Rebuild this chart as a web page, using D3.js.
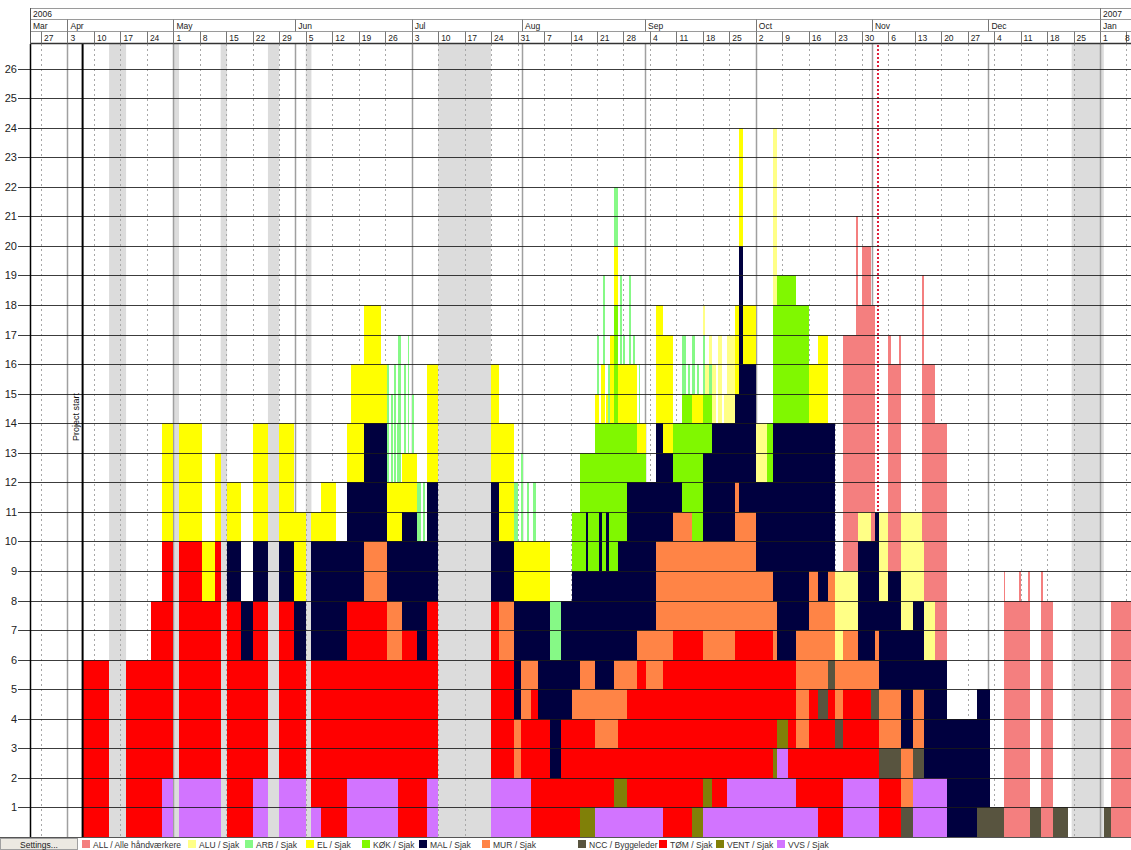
<!DOCTYPE html>
<html>
<head>
<meta charset="utf-8">
<script src="https://cdn.jsdelivr.net/npm/d3@7"></script>
<style>
  body { margin: 0; background: #fff; }
  svg { display: block; font-family: "Liberation Sans", Arial, sans-serif; }
</style>
</head>
<body>
<div id="container"></div>
<script>
// day numbers count from Monday 27 Mar 2006 (day 0)
const baseDate = new Date(2006, 2, 27);

// stacking order, bottom -> top
const trades = ["VVS", "VENT", "TOM", "NCC", "MUR", "MAL", "KOK", "EL", "ARB", "ALU", "ALL"];
const legendKeys = ["ALL", "ALU", "ARB", "EL", "KOK", "MAL", "MUR", "NCC", "TOM", "VENT", "VVS"];
const legendLabels = ["ALL / Alle håndværkere", "ALU / Sjak", "ARB / Sjak", "EL / Sjak", "KØK / Sjak",
  "MAL / Sjak", "MUR / Sjak", "NCC / Byggeleder", "TØM / Sjak", "VENT / Sjak", "VVS / Sjak"];
const colors = {
  ALL: "#f47f7f", ALU: "#ffff86", ARB: "#86f986", EL: "#ffff00", KOK: "#80f800",
  MAL: "#00003f", MUR: "#ff8446", NCC: "#58543f", TOM: "#ff0000", VENT: "#808008", VVS: "#d274ff"
};

// crew counts per trade: [fromDay, toDay, persons]
const VVS = [[32,35,2],[36.5,47.5,2],[56,60,2],[63,70,2],[71.5,74,1],[81,94.5,2],[102,105,2],[119,129.5,2],
  [146.5,164.5,1],[175,181.5,1],[181.5,194.5,2],[194.5,197.5,3],[197.5,199.5,2],[199.5,205.5,1],[212,221.5,2],[230.5,239.5,2]];
const VENT = [[142.5,146.5,1],[151.5,155,1],[172,177.5,1],[193.5,197.5,1]];
const TOM = [[11,18,6],[22.5,29,6],[29,35,8],[36.5,42.5,8],[42.5,46,6],[46,47.5,8],[49.2,53,8],[53,60,6],[63,67,6],
  [67,70,4],[71.5,74,5],[74,91.5,6],[91.5,94.5,4],[94.5,95.5,6],[95.5,99.5,7],[99.5,105,6],[119,121,6],[121,125,4],
  [127,129.5,2],[129.5,131.5,5],[131.5,134.5,4],[134.5,137.5,2],[137.5,142.5,4],[142.5,146.5,3],[146.5,151.5,2],
  [151.5,152.5,1],[152.5,155,2],[155,157.5,4],[157.5,160,5],[160,164.5,4],[164.5,167,6],[167,172,7],[172,175,6],
  [175,177.5,4],[177.5,181.5,5],[181.5,183.5,4],[183.5,193.5,5],[193.5,194.5,3],[194.5,197.5,2],[197.5,199.5,4],
  [199.5,203,2],[203,208,4],[208,210,5],[210,219.5,3],[219.5,227.5,2]];
const NCC = [[205.5,212,1],[219.5,233.5,1],[247.5,254.5,1],[261.5,264.5,1],[267.5,271.5,1],[281,283,1]];
const MUR = [[85.5,95.5,2],[121,129.5,2],[129.5,131.5,1],[140.5,142.5,1],[142.5,151.5,2],[151.5,152.5,3],[152.5,155,2],
  [155,160,1],[160,162.5,2],[162.5,164.5,5],[164.5,172,4],[172,175,3],[175,183.5,4],[183.5,184.5,5],[184.5,189,4],
  [189,194.5,2],[199.5,205.5,4],[205.5,210,3],[210,216,2],[216,220.5,1],[220.5,233.5,2]];
const MAL = [[49.2,60,2],[63,70,2],[71.5,91.5,4],[91.5,95.5,2],[95.5,105,4],[119,121,4],[121,125,2],[125,127,4],
  [127,131.5,2],[131.5,142.5,4],[142.5,144,3],[144,144.7,5],[144.7,146.5,3],[146.5,147.5,4],[147.5,148.2,6],
  [148.2,149.5,4],[149.5,150.2,6],[150.2,151.5,4],[151.5,152.5,3],[152.5,155,4],[155,157.5,6],
  [157.5,162.5,5],[162.5,164.5,4],[164.5,167,3],[167,169.5,1],[175,177.5,3],[177.5,183.5,4],[183.5,184.5,3],
  [184.5,185.5,9],[185.5,189,5],[189,193.5,3],[193.5,194.5,6],[194.5,199.5,8],[199.5,203,7],[203,205.5,5],
  [205.5,208,6],[208,210,5],[216,221.5,4],[221.5,224,3],[224,230.5,4],[230.5,233.5,3],[233.5,251,4]];
const KOK = [[140.5,142.5,2],[142.5,144,4],[144,144.7,2],[144.7,146.5,4],[146.5,147.5,5],[147.5,148.2,3],
  [148.2,149.5,5],[149.5,150.2,3],[150.2,151.5,5],[151.5,152.5,9],[152.5,155,4],[155,157.5,2],[157.5,160,1],
  [167,169.5,2],[169.5,175,4],[175,177.5,2],[192,193.5,2],[193.5,194.5,4],[194.5,199.5,5],[199.5,203,4]];
const EL = [[32,35,4],[36.5,42.5,4],[42.5,46,2],[46,47.5,3],[49.2,53,2],[56,60,4],[63,67,4],[67,70,3],[71.5,74,1],
  [74,78,2],[81,82,2],[82,90,4],[90,99.5,2],[102,105,4],[119,125,4],[125,134.5,2],[146.5,147.5,1],[148,149,2],
  [149.5,150,1],[150.5,151.5,3],[151.5,157.5,2],[157.5,160,1],[162.5,167,4],[172,175,1],[183.5,184.5,3],
  [184.5,185.5,4],[185.5,189,2],[203,205.5,2],[205.5,208,3]];
const ARB = [[91.5,92,4],[92.5,93,3],[93.3,93.8,4],[94.2,94.5,2],[94.5,95.2,5],[96,96.5,3],[97,97.4,4],[98,98.5,2],
  [99.5,100.5,2],[101,101.5,2],[125,126,2],[127,127.5,3],[128.5,129,2],[130,131,2],[134.5,137.5,2],
  [147,147.5,2],[148.5,149,3],[150,150.5,2],[151.5,152.5,2],[153,153.5,3],[154,154.5,1],[155.5,156,3],
  [156.5,157,1],[158,158.5,2],[169.5,170.5,2],[171,171.5,1],[172,173,2],[173.5,174,1],[175,175.5,2],[176.5,177.5,1]];
const ALU = [[175,177.5,1],[177.5,178.5,2],[179,180,3],[180.5,181.5,1],[181.5,183.5,3],[189,192,2],[193.5,194.5,6],
  [210,212,3],[212,216,2],[216,219.5,1],[221.5,224,3],[227.5,230.5,4],[230.5,233,3],[233,236.5,2]];
const ALL = [[212,215.5,8],[215.5,216,12],[216,217,7],[217,219.5,9],[219.5,220.5,8],[224,224.7,8],[224.7,226.8,7],
  [226.8,227.5,8],[233,233.5,9],[233.5,239.5,8],[254.5,255,9],[255,258.5,8],[258.5,259.2,9],[259.2,261,8],
  [261,261.5,9],[264.5,265,9],[265,267.5,8],[283,289,8]];

const runsByTrade = { VVS, VENT, TOM, NCC, MUR, MAL, KOK, EL, ARB, ALU, ALL };

// non-working periods (grey bands)
const holidays = [[18,22.5],[35,36.5],[47.5,49.2],[60,63],[70,71.5],[105,119],[272.5,281]];

// header
const monthNames = ["Mar", "Apr", "May", "Jun", "Jul", "Aug", "Sep", "Oct", "Nov", "Dec", "Jan"];
const monthStartDays = [-2.9, 7, 35, 67.2, 98, 127.2, 159.7, 189, 219.7, 250.5, 280];
const yearNames = ["2006", "2007"];
const yearStartDays = [-2.9, 280];
const projectStartDay = 11;
const todayDay = 221.3;

main();

function main() {
  const width = 1131;
  const height = 850;
  const plot = { left: 30, right: 1131, top: 44, bottom: 837 };

  const svg = d3.select("#container").append("svg")
    .attr("width", width).attr("height", height);

  const scaleX = d3.scaleLinear().domain([0, 280]).range([41, 1100]);
  const scaleY = d3.scaleLinear().domain([0, 27]).range([plot.bottom, 39]);

  // build elementary intervals and stack them
  const cuts = new Set();
  trades.forEach((t) => runsByTrade[t].forEach((r) => { cuts.add(r[0]); cuts.add(r[1]); }));
  holidays.forEach((h) => { cuts.add(h[0]); cuts.add(h[1]); });
  const bounds = Array.from(cuts).sort((a, b) => a - b);
  const rows = [];
  for (let i = 0; i < bounds.length - 1; i++) {
    const a = bounds[i], b = bounds[i + 1];
    const mid = (a + b) / 2;
    if (holidays.some((h) => mid > h[0] && mid < h[1])) continue;
    const row = { start: a, end: b };
    trades.forEach((t) => {
      row[t] = d3.sum(runsByTrade[t].filter((r) => mid > r[0] && mid < r[1]), (r) => r[2]);
    });
    rows.push(row);
  }
  const series = d3.stack().keys(trades)(rows);

  const clipId = "plotClip";
  svg.append("clipPath").attr("id", clipId).append("rect")
    .attr("x", plot.left).attr("y", plot.top)
    .attr("width", plot.right - plot.left).attr("height", plot.bottom - plot.top);

  const back = svg.append("g").attr("clip-path", `url(#${clipId})`);

  // holiday bands
  back.selectAll("rect.holiday").data(holidays).join("rect")
    .attr("class", "holiday")
    .attr("x", (d) => scaleX(d[0])).attr("y", plot.top)
    .attr("width", (d) => scaleX(d[1]) - scaleX(d[0]))
    .attr("height", plot.bottom - plot.top)
    .attr("fill", "#dcdcdc");

  // weekly dashed lines
  const mondays = d3.range(-7, 290, 7);
  back.selectAll("line.week").data(mondays).join("line")
    .attr("class", "week")
    .attr("x1", (d) => Math.round(scaleX(d)) + 0.5).attr("x2", (d) => Math.round(scaleX(d)) + 0.5)
    .attr("y1", plot.top).attr("y2", plot.bottom)
    .attr("stroke", "#a8a8a8").attr("stroke-dasharray", "2,3");

  // month lines
  back.selectAll("line.month").data(monthStartDays.slice(1)).join("line")
    .attr("class", "month")
    .attr("x1", (d) => Math.round(scaleX(d)) + 0.5).attr("x2", (d) => Math.round(scaleX(d)) + 0.5)
    .attr("y1", plot.top).attr("y2", plot.bottom)
    .attr("stroke", "#a0a0a0").attr("stroke-width", 1.5);

  // today line
  svg.append("line")
    .attr("x1", scaleX(todayDay)).attr("x2", scaleX(todayDay))
    .attr("y1", 9).attr("y2", plot.bottom)
    .attr("stroke", "#e0203a").attr("stroke-width", 2).attr("stroke-dasharray", "2,2");

  // bars
  const bars = svg.append("g").attr("clip-path", `url(#${clipId})`).attr("shape-rendering", "crispEdges");
  bars.selectAll("g").data(series).join("g")
    .attr("fill", (s) => colors[s.key])
    .selectAll("rect")
    .data((s) => s.filter((d) => d[1] > d[0]))
    .join("rect")
    .attr("x", (d) => scaleX(d.data.start))
    .attr("width", (d) => scaleX(d.data.end) - scaleX(d.data.start))
    .attr("y", (d) => scaleY(d[1]))
    .attr("height", (d) => scaleY(d[0]) - scaleY(d[1]));

  // horizontal grid lines and y labels
  const yTicks = d3.range(1, 28);
  svg.append("g").selectAll("line").data(yTicks).join("line")
    .attr("x1", 18).attr("x2", plot.right)
    .attr("y1", (d) => Math.round(scaleY(d)) + 0.5).attr("y2", (d) => Math.round(scaleY(d)) + 0.5)
    .attr("stroke", "#1a1a1a").attr("stroke-opacity", 0.85);
  svg.append("g").selectAll("text").data(yTicks).join("text")
    .attr("x", 17).attr("y", (d) => scaleY(d) + 4)
    .attr("text-anchor", "end").attr("font-size", 11).attr("fill", "#222")
    .text((d) => d);

  // project start
  svg.append("line")
    .attr("x1", scaleX(projectStartDay)).attr("x2", scaleX(projectStartDay))
    .attr("y1", plot.top).attr("y2", plot.bottom)
    .attr("stroke", "#000").attr("stroke-width", 2);
  svg.append("text")
    .attr("transform", `translate(${scaleX(projectStartDay) - 4}, 417) rotate(-90)`)
    .attr("text-anchor", "middle").attr("font-size", 9).attr("fill", "#111")
    .text("Project start");

  // plot frame
  svg.append("line").attr("x1", plot.left + 0.5).attr("x2", plot.left + 0.5)
    .attr("y1", plot.top).attr("y2", plot.bottom).attr("stroke", "#000").attr("stroke-width", 1.5);
  svg.append("line").attr("x1", 0).attr("x2", plot.right)
    .attr("y1", plot.bottom + 0.5).attr("y2", plot.bottom + 0.5).attr("stroke", "#555");

  // header
  const header = svg.append("g");
  header.append("rect").attr("x", 0).attr("y", 0).attr("width", width).attr("height", plot.top).attr("fill", "#fff");
  const rowsY = [8.5, 19.5, 31.5];
  rowsY.forEach((y) => header.append("line").attr("x1", plot.left).attr("x2", width)
    .attr("y1", y).attr("y2", y).attr("stroke", "#9a9a9a"));
  header.append("line").attr("x1", plot.left).attr("x2", width)
    .attr("y1", 43.5).attr("y2", 43.5).attr("stroke", "#333").attr("stroke-width", 1.5);
  header.append("line").attr("x1", plot.left + 0.5).attr("x2", plot.left + 0.5)
    .attr("y1", 8).attr("y2", 44).attr("stroke", "#555");

  header.selectAll("line.year").data(yearStartDays.slice(1)).join("line")
    .attr("class", "year")
    .attr("x1", (d) => Math.round(scaleX(d)) + 0.5).attr("x2", (d) => Math.round(scaleX(d)) + 0.5)
    .attr("y1", 8).attr("y2", 19.5).attr("stroke", "#777");
  header.selectAll("text.year").data(yearNames).join("text")
    .attr("class", "year")
    .attr("x", (d, i) => Math.max(plot.left, scaleX(yearStartDays[i])) + 3).attr("y", 17)
    .attr("font-size", 8.5).attr("fill", "#222").text((d) => d);

  header.selectAll("line.mon").data(monthStartDays.slice(1)).join("line")
    .attr("class", "mon")
    .attr("x1", (d) => Math.round(scaleX(d)) + 0.5).attr("x2", (d) => Math.round(scaleX(d)) + 0.5)
    .attr("y1", 19.5).attr("y2", 31.5).attr("stroke", "#777");
  header.selectAll("text.mon").data(monthNames).join("text")
    .attr("class", "mon")
    .attr("x", (d, i) => Math.max(plot.left, scaleX(monthStartDays[i])) + 3).attr("y", 29)
    .attr("font-size", 8.5).attr("fill", "#222").text((d) => d);

  const weekDays = mondays.filter((d) => d >= 0);
  header.selectAll("line.wk").data(weekDays).join("line")
    .attr("class", "wk")
    .attr("x1", (d) => Math.round(scaleX(d)) + 0.5).attr("x2", (d) => Math.round(scaleX(d)) + 0.5)
    .attr("y1", 31.5).attr("y2", 43.5).attr("stroke", "#777");
  header.selectAll("text.wk").data(weekDays).join("text")
    .attr("class", "wk")
    .attr("x", (d) => Math.min(scaleX(d) + 3, width - 6)).attr("y", 41)
    .attr("font-size", 8.5).attr("fill", "#222")
    .text((d) => d3.timeDay.offset(baseDate, d).getDate());

  // legend
  const legend = svg.append("g");
  legend.append("rect").attr("x", 0.5).attr("y", 838.5).attr("width", 77).attr("height", 11)
    .attr("fill", "#ece9e2").attr("stroke", "#a0a0a0");
  legend.append("text").attr("x", 39).attr("y", 847.5).attr("text-anchor", "middle")
    .attr("font-size", 8.5).attr("fill", "#222").text("Settings...");
  const legendX = [82, 188, 245, 306, 362, 419, 482, 578, 659, 716, 777];
  const item = legend.selectAll("g.item").data(legendKeys).join("g")
    .attr("class", "item")
    .attr("transform", (d, i) => `translate(${legendX[i]}, 840)`);
  item.append("rect").attr("width", 8).attr("height", 8).attr("fill", (d) => colors[d]);
  item.append("text").attr("x", 11).attr("y", 7.5).attr("font-size", 8.5).attr("fill", "#333")
    .text((d, i) => legendLabels[i]);
}
</script>
</body>
</html>
